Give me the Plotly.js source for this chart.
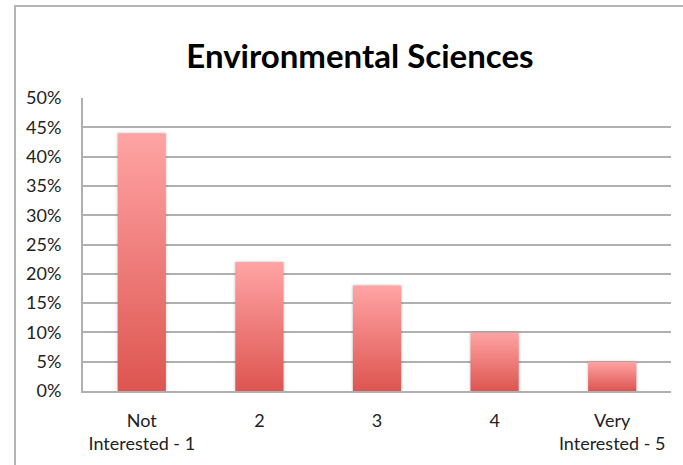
<!DOCTYPE html>
<html><head><meta charset="utf-8">
<script src="https://cdn.plot.ly/plotly-3.0.1.min.js"></script>
<style>html,body{margin:0;padding:0;background:#fff}#wrap{position:relative;width:683px;height:465px}#chart{width:683px;height:465px}#frame{position:absolute;left:14px;top:5px;right:0;bottom:0;border-left:2px solid #b5b5b5;border-top:2px solid #b5b5b5;pointer-events:none}</style>
</head><body>
<div id="wrap"><div id="chart"></div><div id="frame"></div></div>
<script>
const categories = ["Not<br>Interested - 1", "2", "3", "4", "Very<br>Interested - 5"];
const values = [0.44, 0.22, 0.18, 0.10, 0.05];
const yTicks = [0,0.05,0.1,0.15,0.2,0.25,0.3,0.35,0.4,0.45,0.5];
const yTickText = ["0%","5%","10%","15%","20%","25%","30%","35%","40%","45%","50%"];

const font = "Lato, 'Open Sans', sans-serif";
Plotly.newPlot("chart", [{
  type: "bar", x: categories, y: values,
  marker: {color: "#f08080", line: {width: 0}},
  hoverinfo: "none"
}], {
  width: 683, height: 465,
  margin: {l: 83, r: 12, t: 98, b: 74},
  paper_bgcolor: "rgba(0,0,0,0)", plot_bgcolor: "#fff",
  bargap: 0.59,
  showlegend: false,
  title: {text: "<b>Environmental Sciences</b>", font: {family: font, size: 33, color: "#000"}, x: 0.527, xanchor: "center", y: 0.878, yanchor: "middle"},
  xaxis: {type: "category", tickfont: {family: font, size: 18, color: "#222"}, showline: true, linecolor: "#b0b0b0", linewidth: 2, ticks: "", ticklabelstandoff: 12, fixedrange: true},
  yaxis: {range: [0, 0.5], tickvals: yTicks, ticktext: yTickText, tickfont: {family: font, size: 18, color: "#222"}, showgrid: true, gridcolor: "#b0b0b0", gridwidth: 2, zeroline: false, showline: true, linecolor: "#b0b0b0", linewidth: 2, ticks: "", ticklabelstandoff: 16, fixedrange: true}
}, {staticPlot: true}).then(function(gd){
  const svg = gd.querySelector("svg.main-svg");
  const ns = "http://www.w3.org/2000/svg";
  let defs = svg.querySelector("defs");
  const g = document.createElementNS(ns, "linearGradient");
  g.setAttribute("id", "barGrad");
  g.setAttribute("x1", "0"); g.setAttribute("y1", "0"); g.setAttribute("x2", "0"); g.setAttribute("y2", "1");
  [["0", "#ffa4a4"], ["1", "#dd5550"]].forEach(function(s){
    const st = document.createElementNS(ns, "stop");
    st.setAttribute("offset", s[0]); st.setAttribute("stop-color", s[1]);
    g.appendChild(st);
  });
  defs.appendChild(g);
  gd.querySelectorAll(".bars path").forEach(function(p){
    p.style.fill = "url(#barGrad)";
    p.style.filter = "drop-shadow(0px 0px 1.5px rgba(0,0,0,0.25))";
  });
});
</script>
</body></html>
